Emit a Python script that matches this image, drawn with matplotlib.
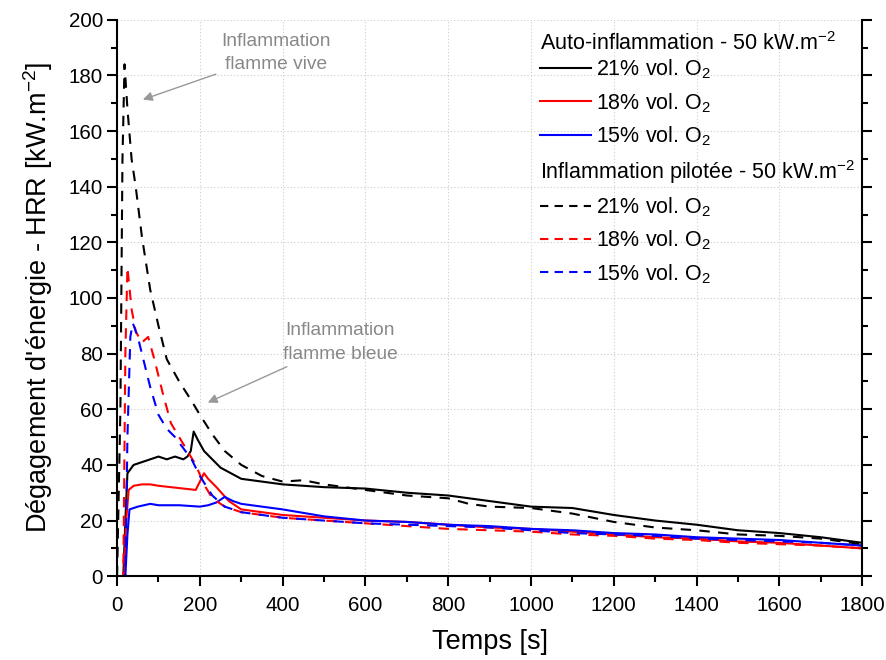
import numpy as np
import matplotlib
matplotlib.use('Agg')
import matplotlib.pyplot as plt
from matplotlib.lines import Line2D
from matplotlib.ticker import MultipleLocator

plt.rcParams['font.family'] = ['Liberation Sans', 'DejaVu Sans']
plt.rcParams['mathtext.fontset'] = 'custom'
plt.rcParams['mathtext.rm'] = 'Liberation Sans'
plt.rcParams['mathtext.it'] = 'Liberation Sans'

# auto-inflammation (solid)
t_auto21 = [0, 15, 20, 25, 40, 60, 80, 100, 120, 140, 160, 170, 178, 185, 195, 210, 230, 250, 275, 300, 350, 400, 450, 500, 600, 700, 800, 900, 1000, 1100, 1200, 1300, 1400, 1500, 1600, 1700, 1800]
hrr_auto21 = [0, 0, 20, 37, 40, 41, 42, 43, 42, 43, 42, 43, 45, 52, 49, 45, 42, 39, 37, 35, 34, 33, 32.5, 32, 31.5, 30, 29, 27, 25, 24.5, 22, 20, 18.5, 16.5, 15.5, 14, 12]

t_auto18 = [0, 17, 22, 28, 40, 60, 80, 100, 130, 160, 190, 200, 210, 220, 240, 270, 300, 350, 400, 500, 600, 700, 800, 900, 1000, 1100, 1200, 1300, 1400, 1500, 1600, 1700, 1800]
hrr_auto18 = [0, 0, 20, 31, 32.5, 33, 33, 32.5, 32, 31.5, 31, 34, 37, 35, 32, 27, 24, 23, 22, 21, 20, 19.5, 18.5, 17.5, 17, 16, 15, 14, 13.5, 12.5, 12, 11, 10]

t_auto15 = [0, 20, 25, 30, 50, 80, 100, 150, 200, 220, 240, 260, 280, 300, 350, 400, 500, 600, 700, 800, 900, 1000, 1100, 1200, 1300, 1400, 1500, 1600, 1700, 1800]
hrr_auto15 = [0, 0, 15, 24, 25, 26, 25.5, 25.5, 25, 25.5, 26.5, 28.5, 27, 26, 25, 24, 21.5, 20, 19.5, 18.5, 18, 17, 16.5, 15.5, 15, 14, 13.5, 13, 12, 11]

# inflammation pilotee (dashed)
t_pil21 = [0, 8, 13, 18, 25, 35, 45, 60, 80, 100, 120, 150, 180, 200, 230, 260, 300, 350, 400, 450, 500, 600, 700, 800, 850, 900, 1000, 1100, 1200, 1300, 1400, 1500, 1600, 1700, 1800]
hrr_pil21 = [0, 60, 150, 184, 168, 150, 140, 122, 103, 90, 78, 70, 63, 58, 51, 45, 40, 36, 34, 34.5, 33, 31, 29, 28, 26, 25, 24.5, 22.5, 19.5, 17.5, 16.5, 15, 14.5, 13.5, 11.5]

t_pil18 = [0, 15, 20, 25, 35, 45, 60, 75, 90, 110, 130, 150, 170, 190, 210, 230, 260, 300, 400, 500, 600, 700, 800, 900, 1000, 1100, 1200, 1300, 1400, 1500, 1600, 1700, 1800]
hrr_pil18 = [0, 0, 80, 111, 96, 88, 84, 86, 78, 66, 55, 50, 45, 40, 33, 28, 25, 23, 21, 20, 19, 18, 17, 16.5, 16, 15, 14.5, 13.5, 13, 12, 11.5, 11, 10]

t_pil15 = [0, 20, 25, 32, 38, 50, 65, 80, 100, 120, 140, 160, 180, 200, 230, 260, 300, 400, 500, 600, 700, 800, 900, 1000, 1100, 1200, 1300, 1400, 1500, 1600, 1700, 1800]
hrr_pil15 = [0, 0, 50, 86, 91, 86, 77, 68, 58, 53, 50, 46, 42, 36, 29, 25, 23, 21, 20, 19, 18.5, 18, 17.5, 16.5, 15.5, 15, 14.5, 13.5, 13, 12.5, 12, 11]

colors = ['black', 'red', 'blue']
labels = ['21% vol. O$_2$', '18% vol. O$_2$', '15% vol. O$_2$']

fig = plt.figure(figsize=(8.87, 6.6), dpi=100)
ax = fig.add_axes([0.132, 0.127, 0.840, 0.843])

ax.plot(t_auto21, hrr_auto21, color='black', lw=1.5)
ax.plot(t_auto18, hrr_auto18, color='red', lw=1.5)
ax.plot(t_auto15, hrr_auto15, color='blue', lw=1.5)
ax.plot(t_pil21, hrr_pil21, color='black', lw=1.5, ls=(0, (5, 4)))
ax.plot(t_pil18, hrr_pil18, color='red', lw=1.5, ls=(0, (5, 4)))
ax.plot(t_pil15, hrr_pil15, color='blue', lw=1.5, ls=(0, (5, 4)))

ax.set_xlim(0, 1800)
ax.set_ylim(0, 200)
ax.xaxis.set_major_locator(MultipleLocator(200))
ax.xaxis.set_minor_locator(MultipleLocator(100))
ax.yaxis.set_major_locator(MultipleLocator(20))
ax.yaxis.set_minor_locator(MultipleLocator(10))
ax.grid(True, which='major', color='#cccccc', ls=(0, (1, 2)), lw=0.8)
ax.spines['top'].set_visible(False)
for s in ['left', 'right', 'bottom']:
    ax.spines[s].set_linewidth(1.5)
ax.tick_params(which='both', direction='out', width=1.5, labelsize=14.8)
ax.tick_params(which='major', length=7)
ax.tick_params(which='minor', length=4)
ax.tick_params(axis='x', which='major', pad=7)
ax.tick_params(axis='y', which='major', pad=3)
ax.tick_params(axis='y', which='both', right=True, labelright=False)
ax.set_xlabel('Temps [s]', fontsize=19.5, labelpad=10)
ax.set_ylabel("Dégagement d'énergie - HRR [kW.m$^{-2}$]", fontsize=19.5, labelpad=10)

ax.annotate('Inflammation\nflamme vive', xy=(56, 171), xytext=(384, 188),
            ha='center', va='center', color='#888888', fontsize=13.8,
            linespacing=1.5,
            arrowprops=dict(arrowstyle='-|>', color='#999999', lw=1))
ax.annotate('Inflammation\nflamme bleue', xy=(213, 62), xytext=(539, 84),
            ha='center', va='center', color='#888888', fontsize=13.8,
            linespacing=1.5,
            arrowprops=dict(arrowstyle='-|>', color='#999999', lw=1))

h1 = [Line2D([], [], color=c, lw=1.5) for c in colors]
h2 = [Line2D([], [], color=c, lw=1.5, ls=(0, (4, 3))) for c in colors]
leg_kw = dict(loc='upper left', frameon=False, fontsize=15.5, title_fontsize=15.5,
              alignment='left', handlelength=2.35, handletextpad=0.25,
              labelspacing=0.45, borderpad=0.0, borderaxespad=0.0)
leg1 = ax.legend(h1, labels, title='Auto-inflammation - 50 kW.m$^{-2}$',
                 bbox_to_anchor=(0.568, 0.978), **leg_kw)
leg1._legend_box.sep = 2
ax.add_artist(leg1)
ax.legend(h2, labels, title='Inflammation pilotée - 50 kW.m$^{-2}$',
          bbox_to_anchor=(0.568, 0.752), **leg_kw)

fig.savefig('out.png', dpi=100)
